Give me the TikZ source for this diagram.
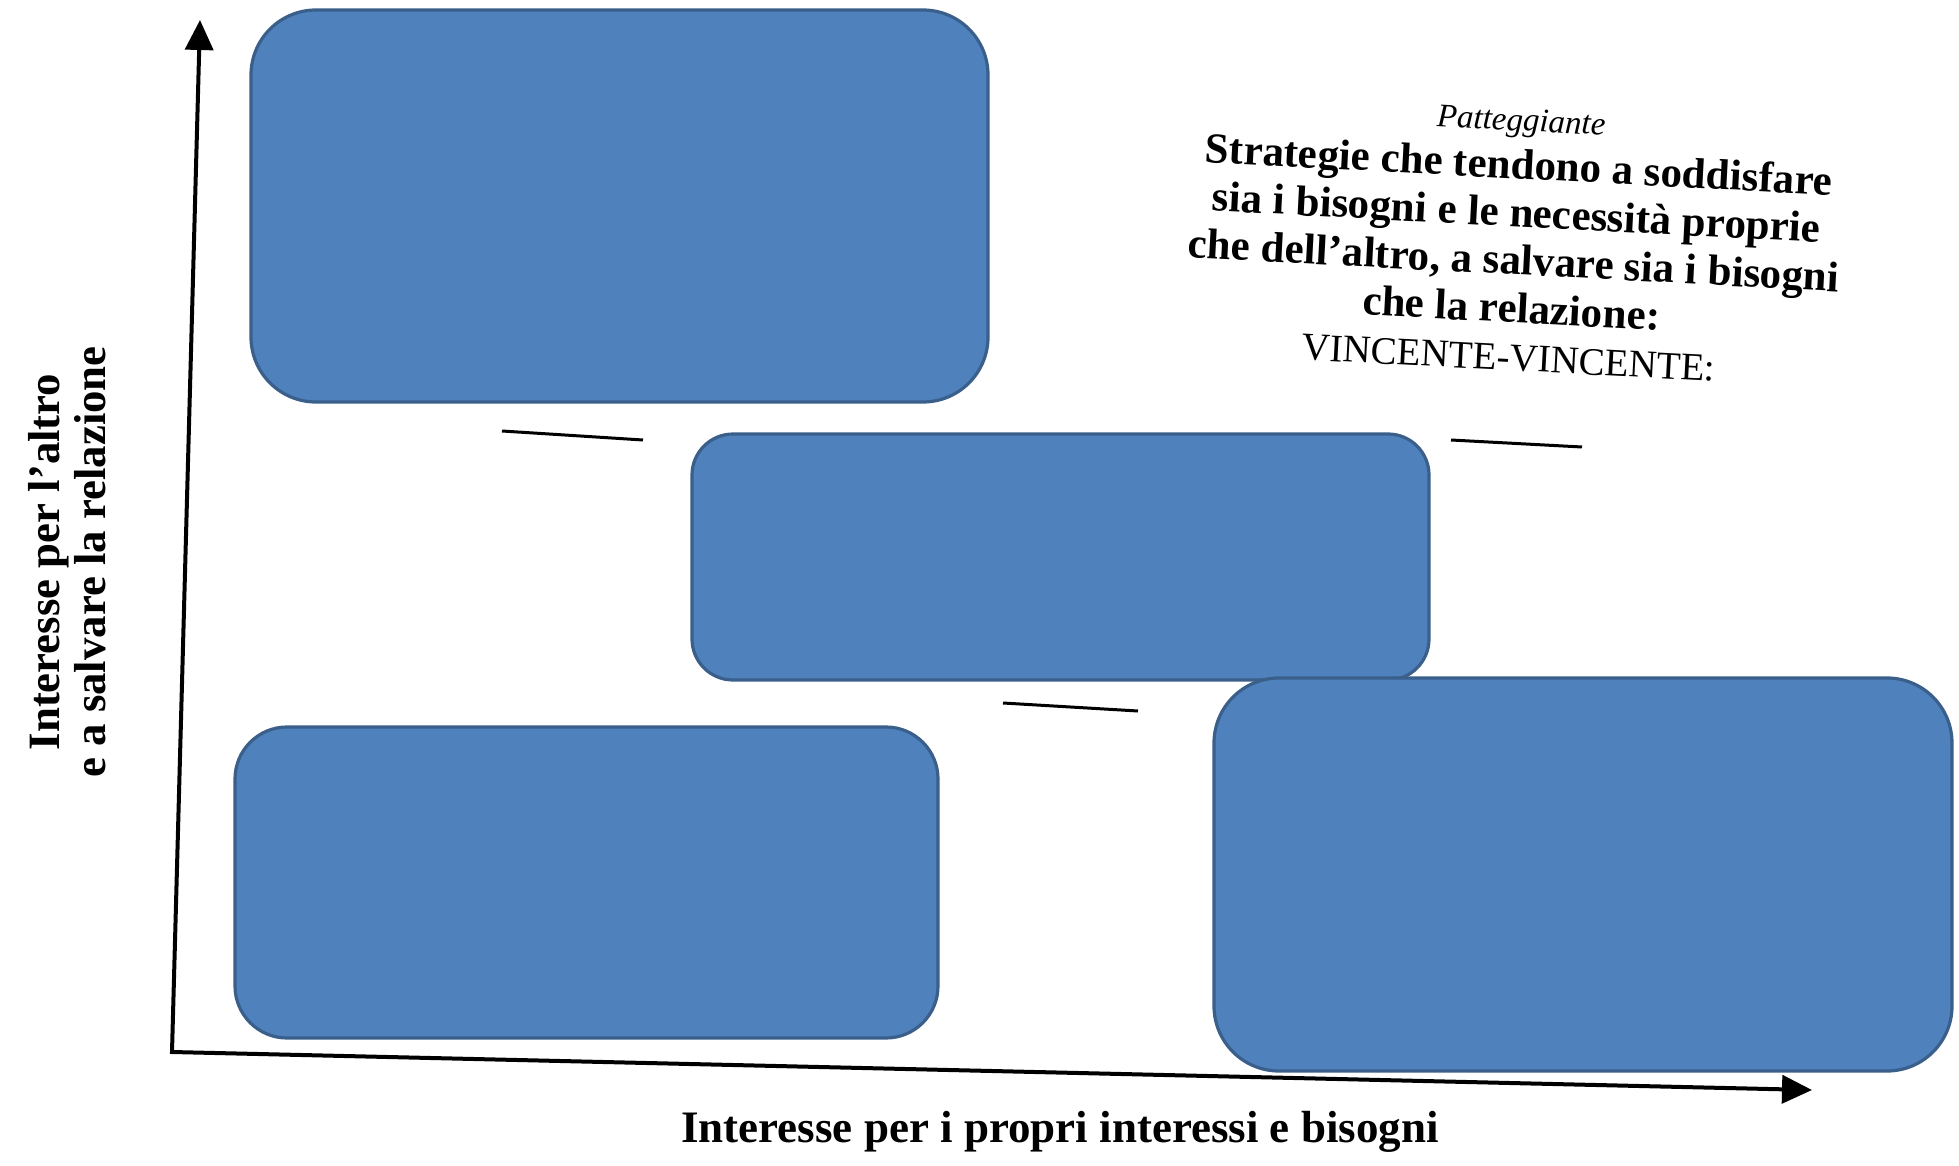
\documentclass[tikz,border=0pt]{standalone}
\usepackage{fontspec}
\setmainfont{Liberation Serif}
\usetikzlibrary{arrows.meta}
\definecolor{boxfill}{HTML}{4F81BD}
\definecolor{boxline}{HTML}{3A5F8B}
\begin{document}
\begin{tikzpicture}[x=0.5pt,y=-0.5pt,
  qbox/.style={draw=boxline, fill=boxfill, line width=1.6pt, inner sep=0pt, outer sep=0pt},
  axisline/.style={line width=2pt, {Triangle[length=15pt,width=14pt]}-{Triangle[length=15pt,width=14pt]}},
  tickline/.style={line width=1.5pt},
  bigtext/.style={font=\bfseries\fontsize{21.5}{24}\selectfont, align=center, inner sep=0pt},
  axlabel/.style={font=\bfseries\fontsize{22.4}{23}\selectfont, align=center, inner sep=0pt}]
\useasboundingbox (0,0) rectangle (1959,1166);

% axes
\coordinate (O) at (172,1052);
\coordinate (ytip) at (200,20);
\coordinate (xtip) at (1812,1090);
\draw[axisline] (ytip) -- (O) -- (xtip);

% boxes
\node[qbox, minimum width=368.5pt, minimum height=196pt, rounded corners=32.5pt] (b1) at (619.5,206) {};
\node[qbox, minimum width=368.5pt, minimum height=123pt, rounded corners=20.5pt] (b2) at (1060.5,557) {};
\node[qbox, minimum width=351.5pt, minimum height=155.5pt, rounded corners=26pt] (b3) at (586.5,882.5) {};
\node[qbox, minimum width=369pt, minimum height=196.5pt, rounded corners=32.5pt] (b4) at (1583,874.5) {};

% short lines
\coordinate (d1a) at (502,431); \coordinate (d1b) at (643,440);
\coordinate (d2a) at (1451,440); \coordinate (d2b) at (1582,447);
\coordinate (d3a) at (1003,703); \coordinate (d3b) at (1138,711);
\draw[tickline] (d1a) -- (d1b);
\draw[tickline] (d2a) -- (d2b);
\draw[tickline] (d3a) -- (d3b);

% text block
\node[bigtext, rotate=-3] (txt) at (1515,240) {{\mdseries\itshape\fontsize{16.5}{24}\selectfont Patteggiante}\\
Strategie che tendono a soddisfare\\
sia i bisogni e le necessità proprie\\
che dell’altro, a salvare sia i bisogni\\
che la relazione:\\
{\mdseries\fontsize{19.5}{24}\selectfont VINCENTE-VINCENTE:}};

% axis labels
\node[axlabel, rotate=90] (ylab) at (67,562) {Interesse per l’altro\\e a salvare la relazione};
\node[font=\bfseries\fontsize{22.5}{24}\selectfont, inner sep=0pt, anchor=base] (xlab) at (1060,1142) {Interesse per i propri interessi e bisogni};
\end{tikzpicture}
\end{document}
